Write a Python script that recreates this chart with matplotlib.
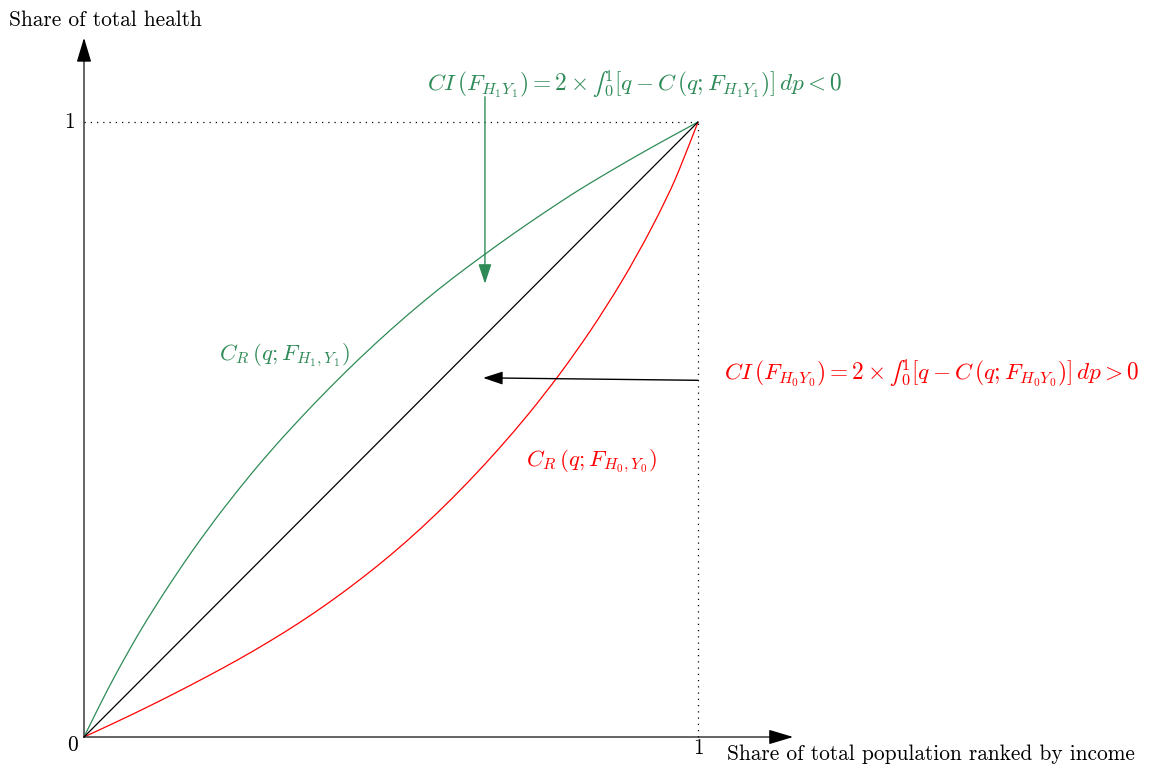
import matplotlib
matplotlib.use("Agg")
import matplotlib.pyplot as plt
from matplotlib.path import Path
from matplotlib.patches import PathPatch

plt.rcParams["mathtext.fontset"] = "cm"
plt.rcParams["font.family"] = "cmr10"
plt.rcParams["axes.formatter.use_mathtext"] = True

# Concentration curves
pop_h1 = [0.000, 0.025, 0.050, 0.075, 0.100, 0.150, 0.200, 0.250, 0.300, 0.350, 0.400, 0.450,
          0.500, 0.550, 0.600, 0.650, 0.700, 0.750, 0.800, 0.850, 0.900, 0.950, 1.000]
curve_h1 = [0.000, 0.051, 0.099, 0.144, 0.187, 0.265, 0.336, 0.401, 0.461, 0.516, 0.568, 0.617,
            0.663, 0.706, 0.746, 0.783, 0.819, 0.853, 0.886, 0.916, 0.945, 0.973, 1.000]
pop_h0 = [0.000, 0.050, 0.100, 0.150, 0.200, 0.250, 0.300, 0.350, 0.400, 0.450, 0.500,
          0.550, 0.600, 0.650, 0.700, 0.750, 0.800, 0.850, 0.900, 0.950, 0.975, 1.000]
curve_h0 = [0.000, 0.023, 0.047, 0.072, 0.098, 0.125, 0.154, 0.185, 0.219, 0.256, 0.296,
            0.340, 0.388, 0.440, 0.496, 0.557, 0.624, 0.698, 0.781, 0.877, 0.935, 1.000]

green = "#2e8b57"
red = "#ff0000"
axis_grey = "#4a4a4a"


def smooth_curve(ax, xs, ys, color):
    """Quadratic B-spline through the read points (passes through both ends)."""
    pts = list(zip(xs, ys))
    verts = [pts[0]]
    codes = [Path.MOVETO]
    for i in range(1, len(pts) - 1):
        nxt = pts[i + 1] if i == len(pts) - 2 else (
            (pts[i][0] + pts[i + 1][0]) / 2, (pts[i][1] + pts[i + 1][1]) / 2)
        verts += [pts[i], nxt]
        codes += [Path.CURVE3, Path.CURVE3]
    ax.add_patch(PathPatch(Path(verts, codes), facecolor="none", edgecolor=color, lw=0.9))


fig = plt.figure(figsize=(11.53, 7.72), dpi=100)
ax = fig.add_axes([0, 0, 1, 1])
# one data unit = 614 px across, 615 px up; origin at pixel (84, 737)
ax.set_xlim(-84 / 614, (1153 - 84) / 614)
ax.set_ylim(-(772 - 737) / 615, 737 / 615)
ax.axis("off")

# axes: grey shaft, black head
head = "-|>,head_length=1.5,head_width=0.45"
ax.plot([0, 1.14], [0, 0], color=axis_grey, lw=1.2)
ax.plot([0, 0], [0, 1.12], color=axis_grey, lw=1.2)
ax.annotate("", xy=(1.155, 0), xytext=(1.12, 0),
            arrowprops=dict(arrowstyle=head, color="black", lw=1.0, shrinkA=0, shrinkB=0))
ax.annotate("", xy=(0, 1.137), xytext=(0, 1.10),
            arrowprops=dict(arrowstyle=head, color="black", lw=1.0, shrinkA=0, shrinkB=0))

# dotted guides
ax.plot([0, 1], [1, 1], color="black", lw=0.9, ls=(0, (1, 4)))
ax.plot([1, 1], [0, 1], color="black", lw=0.9, ls=(0, (1, 4)))

# equality line and concentration curves
ax.plot([0, 1], [0, 1], color="black", lw=0.9)
smooth_curve(ax, pop_h1, curve_h1, green)
smooth_curve(ax, pop_h0, curve_h0, red)

fs = 15.4
ms = 16.8
ax.text(0.034, 1.166, "Share of total health", fontsize=fs, ha="center", va="center")
ax.text(1.047, -0.028, "Share of total population ranked by income", fontsize=fs,
        ha="left", va="center")
ax.text(-0.023, 1.0, "1", fontsize=fs, ha="center", va="center")
ax.text(-0.018, -0.013, "0", fontsize=fs, ha="center", va="center")
ax.text(1.0, -0.018, "1", fontsize=fs, ha="center", va="center")

# curve labels
ax.text(0.326, 0.621, r"$C_R\,(q;F_{H_1,Y_1})$", color=green, fontsize=16.5,
        ha="center", va="center")
ax.text(0.826, 0.449, r"$C_R\,(q;F_{H_0,Y_0})$", color=red, fontsize=16.5,
        ha="center", va="center")

# concentration index annotations (small inline integral sign)
ci_h1 = r"$CI\,(F_{H_1Y_1}) = 2\times$∫$_0^1[q - C\,(q;F_{H_1Y_1})]\,dp < 0$".replace("$∫$", "∫")
ci_h0 = r"$CI\,(F_{H_0Y_0}) = 2\times$∫$_0^1[q - C\,(q;F_{H_0Y_0})]\,dp > 0$".replace("$∫$", "∫")

ax.text(0.897, 1.062, ci_h1, color=green, fontsize=ms, ha="center", va="center")
ax.annotate("", xy=(0.653, 0.737), xytext=(0.653, 1.041),
            arrowprops=dict(arrowstyle="-|>,head_length=1.2,head_width=0.4",
                            color=green, lw=1.0, shrinkA=0, shrinkB=0))

ax.text(1.042, 0.592, ci_h0, color=red, fontsize=ms, ha="left", va="center")
ax.annotate("", xy=(0.650, 0.584), xytext=(1.0, 0.580),
            arrowprops=dict(arrowstyle="-|>,head_length=1.2,head_width=0.4",
                            color="black", lw=1.0, shrinkA=0, shrinkB=0))

fig.savefig("out.png", dpi=100)
